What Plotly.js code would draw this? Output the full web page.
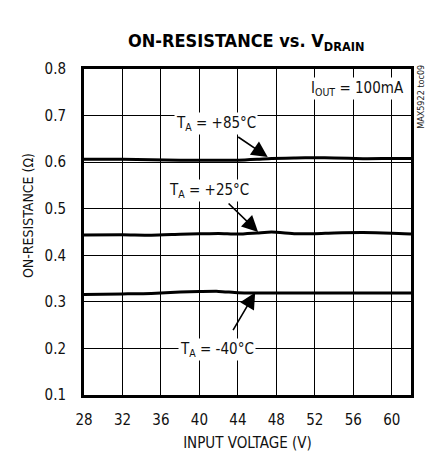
<!DOCTYPE html>
<html>
<head>
<meta charset="utf-8">
<script src="https://cdn.plot.ly/plotly-3.0.1.min.js"></script>
<style>html,body{margin:0;padding:0;background:#fff;}#chart{width:432px;height:455px;}</style>
</head>
<body>
<div id="chart"></div>
<script>
// Data
const voltage = [28, 32, 35, 38, 40, 42, 44, 46, 47.5, 50, 52, 54, 57, 60, 62];
const r85 = [0.606, 0.606, 0.605, 0.604, 0.604, 0.604, 0.604, 0.606, 0.608, 0.609, 0.6095, 0.609, 0.6075, 0.608, 0.608];
const r25 = [0.4435, 0.444, 0.443, 0.445, 0.446, 0.447, 0.4455, 0.448, 0.45, 0.4465, 0.4465, 0.448, 0.449, 0.4475, 0.4455];
const rm40 = [0.316, 0.317, 0.318, 0.321, 0.322, 0.3225, 0.3195, 0.319, 0.319, 0.319, 0.319, 0.319, 0.319, 0.319, 0.319];
const xTicks = [28, 32, 36, 40, 44, 48, 52, 56, 60];
const yTicks = [0.1, 0.2, 0.3, 0.4, 0.5, 0.6, 0.7, 0.8];

const FONT = '"DejaVu Sans Condensed", "Liberation Sans Narrow", sans-serif';
const lineStyle = {color: '#000', width: 3, shape: 'spline', smoothing: 0.6};

const traces = [
  {x: voltage, y: r85, mode: 'lines', line: lineStyle, hoverinfo: 'skip'},
  {x: voltage, y: r25, mode: 'lines', line: lineStyle, hoverinfo: 'skip'},
  {x: voltage, y: rm40, mode: 'lines', line: lineStyle, hoverinfo: 'skip'}
];

const txt = {family: FONT, size: 15, color: '#111', stretch: 'condensed'};
const arrowCommon = {text: '', showarrow: true, arrowhead: 2, arrowsize: 2, arrowwidth: 1.6, arrowcolor: '#000', standoff: 0};

const layout = {
  width: 432, height: 455,
  margin: {l: 84, r: 21, t: 69, b: 60},
  paper_bgcolor: '#fff', plot_bgcolor: '#fff',
  showlegend: false,
  font: {family: FONT, size: 15, color: '#111', stretch: 'condensed'},
  title: {
    text: '<b>ON-RESISTANCE vs. V<sub>DRAIN</sub></b>',
    font: {family: FONT, size: 18, color: '#000', stretch: 'condensed'},
    x: 0.57, xanchor: 'center', y: 0.91, yanchor: 'middle'
  },
  xaxis: {
    range: [28, 62], tickvals: xTicks, ticktext: xTicks.map(String),
    showgrid: true, gridcolor: '#000', gridwidth: 1,
    showline: true, linecolor: '#000', linewidth: 3, mirror: true,
    ticks: '', zeroline: false, ticklabelstandoff: 9,
    tickfont: txt,
    title: {text: 'INPUT VOLTAGE (V)', font: txt, standoff: 10}
  },
  yaxis: {
    range: [0.1, 0.8], tickvals: yTicks, ticktext: yTicks.map(v => v.toFixed(1)),
    showgrid: true, gridcolor: '#000', gridwidth: 1,
    showline: true, linecolor: '#000', linewidth: 3, mirror: true,
    ticks: '', zeroline: false, ticklabelstandoff: 12,
    tickfont: txt
  },
  annotations: [
    {xref: 'paper', yref: 'paper', x: -0.171, y: 0.549, xanchor: 'center', yanchor: 'middle',
     text: 'ON-RESISTANCE (Ω)', textangle: -90,
     showarrow: false, font: {family: FONT, size: 14, color: '#111', stretch: 'condensed'}},
    {x: 41.7, y: 0.684, text: 'T<sub>A</sub> = +85°C', showarrow: false, bgcolor: '#fff', font: txt, borderpad: 1},
    {x: 41.0, y: 0.540, text: 'T<sub>A</sub> = +25°C', showarrow: false, bgcolor: '#fff', font: txt, borderpad: 1},
    {x: 41.8, y: 0.197, text: 'T<sub>A</sub> = -40°C', showarrow: false, bgcolor: '#fff', font: txt, borderpad: 1},
    {x: 56.4, y: 0.759, text: 'I<sub>OUT</sub> = 100mA', showarrow: false, bgcolor: '#fff', font: txt, borderpad: 1},
    Object.assign({x: 47.1, y: 0.611, ax: -31, ay: -21}, arrowCommon),
    Object.assign({x: 46.1, y: 0.450, ax: -31, ay: -30}, arrowCommon),
    Object.assign({x: 45.8, y: 0.320, ax: -23, ay: 39}, arrowCommon),
    {xref: 'paper', yref: 'paper', x: 1.03, y: 0.914, xanchor: 'center', yanchor: 'middle',
     text: 'MAX5922 toc09', textangle: -90,
     showarrow: false, font: {family: FONT, size: 9, color: '#222', stretch: 'condensed'}}
  ]
};

Plotly.newPlot('chart', traces, layout, {displayModeBar: false, staticPlot: true});
</script>
</body>
</html>
